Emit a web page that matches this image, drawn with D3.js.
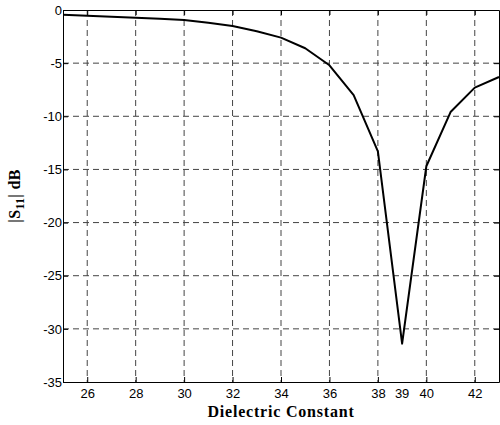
<!DOCTYPE html>
<html>
<head>
<meta charset="utf-8">
<script src="https://cdn.jsdelivr.net/npm/d3@7"></script>
<style>
  body { margin: 0; background: #fff; }
  .tick text, .xextra { font-family: "Liberation Sans", Arial, sans-serif; font-size: 13px; fill: #000; }
  .axlabel { font-family: "Liberation Serif", "Times New Roman", serif; font-weight: bold; font-size: 16px; }
</style>
</head>
<body>
<div id="chart"></div>
<script>
// Chart size and margins
const width = 500;
const height = 425;
const margin = {left: 63, right: 1, top: 10, bottom: 43};

// Data
const dielectric = [25, 26, 27, 28, 29, 30, 31, 32, 33, 34, 35, 36, 37, 38, 39, 40, 41, 42, 43];
const s11 = [-0.45, -0.55, -0.63, -0.72, -0.82, -0.95, -1.2, -1.5, -2.0, -2.6, -3.6, -5.2, -8.0, -13.3, -31.4, -14.7, -9.6, -7.3, -6.3];
const xTicks = [26, 28, 30, 32, 34, 36, 38, 40, 42];
const yTicks = [0, -5, -10, -15, -20, -25, -30, -35];
const extraXLabel = [39];

const svg = d3.select("#chart")
  .append("svg")
  .attr("width", width)
  .attr("height", height);

const x = d3.scaleLinear()
  .domain([25, 43])
  .range([margin.left, width - margin.right]);

const y = d3.scaleLinear()
  .domain([-35, 0])
  .range([height - margin.bottom, margin.top]);

// grid lines
svg.append("g")
  .selectAll("line")
  .data(xTicks)
  .join("line")
    .attr("x1", d => x(d)).attr("x2", d => x(d))
    .attr("y1", y(0)).attr("y2", y(-35))
    .attr("stroke", "#444")
    .attr("stroke-dasharray", "6,4");

svg.append("g")
  .selectAll("line")
  .data(yTicks.filter(d => d != 0 && d != -35))
  .join("line")
    .attr("x1", x(25)).attr("x2", x(43))
    .attr("y1", d => y(d)).attr("y2", d => y(d))
    .attr("stroke", "#444")
    .attr("stroke-dasharray", "6,4");

// axes (matlab style, ticks pointing in), plain hyphen for minus
const fmt = d => String(d);

svg.append("g")
  .attr("transform", `translate(0,${y(-35)})`)
  .call(d3.axisBottom(x).tickValues(xTicks).tickFormat(fmt).tickSize(-5).tickPadding(7).tickSizeOuter(0));

svg.append("g")
  .attr("transform", `translate(0,${y(0)})`)
  .call(d3.axisTop(x).tickValues(xTicks).tickSize(-5).tickFormat("").tickSizeOuter(0));

svg.append("g")
  .attr("transform", `translate(${x(25)},0)`)
  .call(d3.axisLeft(y).tickValues(yTicks).tickFormat(fmt).tickSize(-5).tickPadding(1).tickSizeOuter(0));

svg.append("g")
  .attr("transform", `translate(${x(43)},0)`)
  .call(d3.axisRight(y).tickValues(yTicks).tickSize(-5).tickFormat("").tickSizeOuter(0));

// extra label at 39 (no tick or grid line there)
svg.append("g")
  .selectAll("text")
  .data(extraXLabel)
  .join("text")
    .attr("class", "xextra")
    .attr("x", d => x(d))
    .attr("y", y(-35) + 7)
    .attr("dy", "0.71em")
    .attr("text-anchor", "middle")
    .text(d => d);

// the curve
const line = d3.line()
  .x((d, i) => x(dielectric[i]))
  .y(d => y(d));

svg.append("path")
  .datum(s11)
  .attr("fill", "none")
  .attr("stroke", "#000")
  .attr("stroke-width", 2)
  .attr("stroke-linejoin", "round")
  .attr("d", line);

// axis labels
svg.append("text")
  .attr("class", "axlabel")
  .attr("x", (x(25) + x(43)) / 2)
  .attr("y", 417)
  .attr("text-anchor", "middle")
  .style("letter-spacing", "0.8px")
  .text("Dielectric Constant");

const ylab = svg.append("text")
  .attr("class", "axlabel")
  .attr("transform", `translate(20,${(y(0) + y(-35)) / 2}) rotate(-90)`)
  .attr("text-anchor", "middle")
  .style("letter-spacing", "0.3px");
ylab.append("tspan").text("|S");
ylab.append("tspan").attr("dy", 4).style("font-size", "12px").text("11");
ylab.append("tspan").attr("dy", -4).text("| dB");
</script>
</body>
</html>
